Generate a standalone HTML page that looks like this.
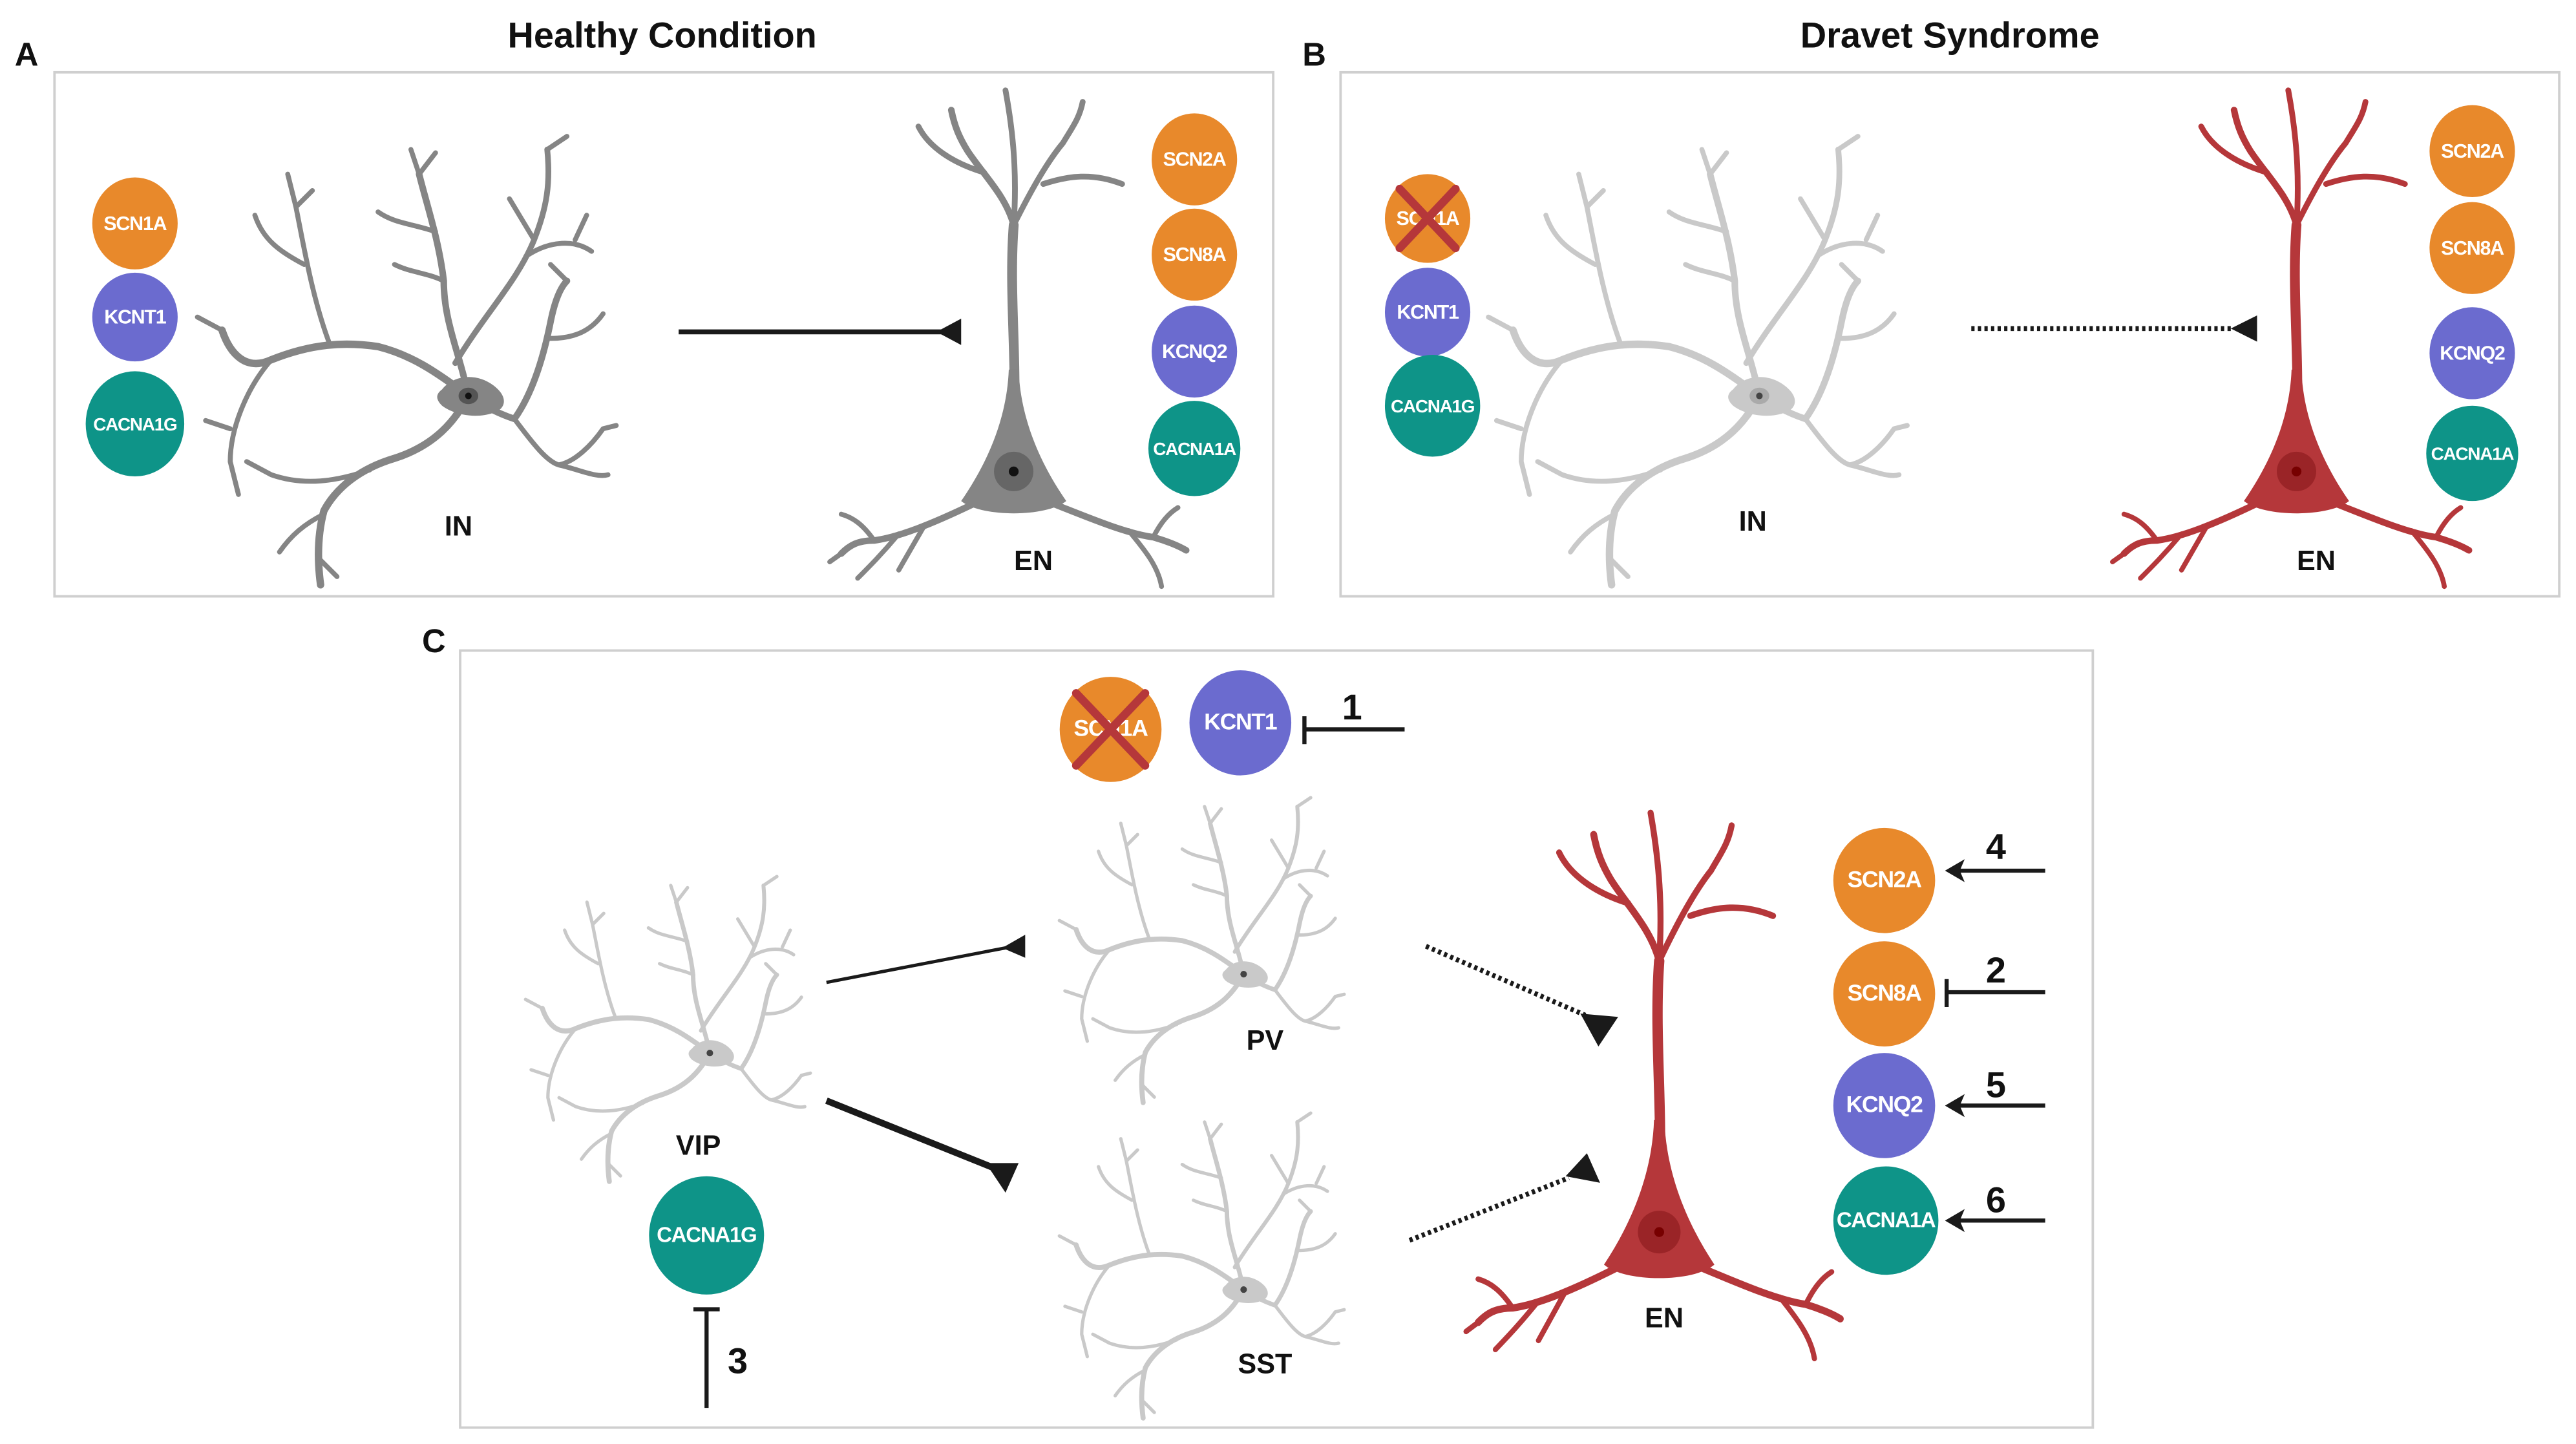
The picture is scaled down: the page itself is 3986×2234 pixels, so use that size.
<!DOCTYPE html>
<html><head><meta charset="utf-8"><style>
html,body{margin:0;padding:0;background:#fff;}
svg{display:block;}
text{font-family:"Liberation Sans",sans-serif;}
.g{font-weight:bold;fill:#fff;text-anchor:middle;font-size:12px;letter-spacing:-0.5px;}
.lab{font-weight:bold;fill:#111;text-anchor:middle;font-size:17px;}
.num{font-weight:bold;fill:#111;text-anchor:middle;font-size:22px;}
</style></head><body>
<svg width="3986" height="2234" viewBox="0 0 1568 879" xmlns="http://www.w3.org/2000/svg">
<defs>
<g id="inD" stroke-linecap="round" stroke-linejoin="round">
 <path fill="none" stroke-width="4.5" d="M0,0 C-20,-15 -35,-25 -55,-30 C-75,-33 -95,-32 -120,-22 C-135,-15 -145,-25 -150,-40"/>
 <path fill="none" stroke-width="3" d="M-85,-33 C-95,-60 -100,-90 -105,-115 L-110,-135 M-100,-80 C-115,-88 -125,-95 -130,-110 M-120,-22 C-135,-5 -145,20 -145,40 L-140,60 M-150,-40 L-165,-48 M-105,-115 L-95,-125 M-145,20 L-160,15"/>
 <path fill="none" stroke-width="4" d="M0,0 C-5,-25 -15,-45 -15,-70 C-18,-95 -25,-115 -30,-135"/>
 <path fill="none" stroke-width="3" d="M-15,-70 C-25,-75 -35,-75 -45,-80 M-20,-100 C-35,-105 -45,-105 -55,-112 M-30,-135 L-35,-150 M-30,-135 L-20,-148"/>
 <path fill="none" stroke-width="3.5" d="M-8,-20 C10,-50 30,-70 40,-95 C48,-115 50,-130 48,-150"/>
 <path fill="none" stroke-width="3" d="M35,-85 C50,-95 65,-95 75,-88 M40,-95 L25,-120 M48,-150 L60,-158 M65,-95 L72,-110"/>
 <path fill="none" stroke-width="4" d="M0,0 C12,8 22,12 28,14 C38,0 45,-20 50,-45 C52,-55 55,-65 60,-70"/>
 <path fill="none" stroke-width="3" d="M50,-35 C65,-35 75,-40 82,-50 M28,14 C40,30 48,40 55,42 C65,40 75,30 82,20 M55,42 C68,45 78,50 85,48 M60,-70 L50,-80 M82,20 L90,18"/>
 <path fill="none" stroke-width="4.5" d="M0,0 C-8,15 -20,30 -45,38 C-65,44 -80,55 -88,70 C-92,85 -92,100 -90,115"/>
 <path fill="none" stroke-width="3" d="M-60,45 C-80,52 -100,55 -120,48 L-135,40 M-88,72 C-100,78 -108,85 -115,95 M-90,100 L-80,110"/>
 <path stroke="none" d="M-16,-4 C-8,-14 8,-14 18,-4 C24,2 22,8 16,10 C6,14 -8,12 -16,6 C-20,2 -20,-1 -16,-4 Z"/>
</g>
<g id="enD" stroke-linecap="round" stroke-linejoin="round">
 <path fill="none" stroke-width="6" d="M0,-30 C2,-70 -3,-110 0,-150"/>
 <path fill="none" stroke-width="4" d="M0,-150 C-5,-168 -18,-180 -28,-195 C-33,-203 -36,-210 -38,-220"/>
 <path fill="none" stroke-width="3.5" d="M-18,-182 C-38,-188 -52,-198 -58,-210 M0,-150 C2,-180 0,-205 -5,-232 M0,-150 C10,-170 20,-188 30,-200 C36,-210 40,-215 42,-225 M18,-175 C33,-180 48,-182 66,-175"/>
 <path fill="none" stroke-width="4" d="M-25,20 C-50,32 -70,40 -85,42 C-95,42 -100,45 -105,50 M25,20 C50,30 70,38 85,40 C92,42 100,45 105,48"/>
 <path fill="none" stroke-width="3" d="M-70,38 C-80,50 -88,58 -95,65 M-85,42 C-92,32 -98,28 -105,26 M-55,34 L-70,60 M70,36 C80,48 88,58 90,70 M85,40 C90,30 95,25 100,22 M-105,50 L-112,55"/>
 <path stroke="none" d="M-3,-62 C-4,-35 -14,-8 -32,18 C-20,28 20,28 32,18 C14,-8 4,-35 3,-62 Z"/>
</g>
</defs>

<text x="403" y="29" class="lab" style="font-size:22px">Healthy Condition</text>
<text x="1187" y="29" class="lab" style="font-size:22px">Dravet Syndrome</text>
<text x="16" y="40" class="lab" style="font-size:20px">A</text>
<text x="800" y="40" class="lab" style="font-size:20px">B</text>
<text x="264" y="397" class="lab" style="font-size:20px">C</text>

<rect x="33" y="44" width="742" height="319" fill="none" stroke="#cfcfcf" stroke-width="1.5"/>
<rect x="816" y="44" width="742" height="319" fill="none" stroke="#cfcfcf" stroke-width="1.5"/>
<rect x="280" y="396" width="994" height="473" fill="none" stroke="#cfcfcf" stroke-width="1.5"/>

<!-- Panel A -->
<use href="#inD" transform="translate(285,241)" stroke="#858585" fill="#858585"/>
<ellipse cx="285" cy="241" rx="6" ry="5" fill="#555"/><circle cx="285" cy="241" r="2" fill="#111"/>
<use href="#enD" transform="translate(617,287)" stroke="#858585" fill="#858585"/>
<circle cx="617" cy="287" r="12" fill="#666"/><circle cx="617" cy="287" r="3" fill="#111"/>
<line x1="413" y1="202" x2="574" y2="202" stroke="#1a1a1a" stroke-width="3"/>
<polygon points="570,202 585,194 585,210" fill="#1a1a1a"/>
<text x="279" y="326" class="lab">IN</text>
<text x="629" y="347" class="lab">EN</text>
<ellipse cx="82" cy="136" rx="26" ry="28" fill="#e8892b"/><text x="82" y="140" class="g">SCN1A</text>
<ellipse cx="82" cy="193" rx="26" ry="27" fill="#6b6bcf"/><text x="82" y="197" class="g">KCNT1</text>
<ellipse cx="82" cy="258" rx="30" ry="32" fill="#0e9488"/><text x="82" y="262" class="g" style="font-size:11px">CACNA1G</text>
<ellipse cx="727" cy="97" rx="26" ry="28" fill="#e8892b"/><text x="727" y="101" class="g">SCN2A</text>
<ellipse cx="727" cy="155" rx="26" ry="28" fill="#e8892b"/><text x="727" y="159" class="g">SCN8A</text>
<ellipse cx="727" cy="214" rx="26" ry="28" fill="#6b6bcf"/><text x="727" y="218" class="g">KCNQ2</text>
<ellipse cx="727" cy="273" rx="28" ry="29" fill="#0e9488"/><text x="727" y="277" class="g" style="font-size:11px">CACNA1A</text>

<!-- Panel B -->
<use href="#inD" transform="translate(1071,241)" stroke="#c9c9c9" fill="#c9c9c9"/>
<ellipse cx="1071" cy="241" rx="6" ry="5" fill="#aaa"/><circle cx="1071" cy="241" r="2" fill="#444"/>
<use href="#enD" transform="translate(1398,287)" stroke="#b5373a" fill="#b5373a"/>
<circle cx="1398" cy="287" r="12" fill="#9a2427"/><circle cx="1398" cy="287" r="3" fill="#700"/>
<line x1="1200" y1="200" x2="1360" y2="200" stroke="#1a1a1a" stroke-width="3" stroke-dasharray="2,2"/>
<polygon points="1358,200 1374,192 1374,208" fill="#1a1a1a"/>
<text x="1067" y="323" class="lab">IN</text>
<text x="1410" y="347" class="lab">EN</text>
<ellipse cx="869" cy="133" rx="26" ry="27" fill="#e8892b"/><text x="869" y="137" class="g">SCN1A</text>
<path d="M852,115 L886,151 M886,115 L852,151" stroke="#b5373a" stroke-width="5" stroke-linecap="round"/>
<ellipse cx="869" cy="190" rx="26" ry="27" fill="#6b6bcf"/><text x="869" y="194" class="g">KCNT1</text>
<ellipse cx="872" cy="247" rx="29" ry="31" fill="#0e9488"/><text x="872" y="251" class="g" style="font-size:11px">CACNA1G</text>
<ellipse cx="1505" cy="92" rx="26" ry="28" fill="#e8892b"/><text x="1505" y="96" class="g">SCN2A</text>
<ellipse cx="1505" cy="151" rx="26" ry="28" fill="#e8892b"/><text x="1505" y="155" class="g">SCN8A</text>
<ellipse cx="1505" cy="215" rx="26" ry="28" fill="#6b6bcf"/><text x="1505" y="219" class="g">KCNQ2</text>
<ellipse cx="1505" cy="276" rx="28" ry="29" fill="#0e9488"/><text x="1505" y="280" class="g" style="font-size:11px">CACNA1A</text>

<!-- Panel C -->
<use href="#inD" transform="translate(432,641) scale(0.68)" stroke="#c9c9c9" fill="#c9c9c9"/>
<circle cx="432" cy="641" r="2" fill="#444"/>
<use href="#inD" transform="translate(757,593) scale(0.68)" stroke="#c9c9c9" fill="#c9c9c9"/>
<circle cx="757" cy="593" r="2" fill="#444"/>
<use href="#inD" transform="translate(757,785) scale(0.68)" stroke="#c9c9c9" fill="#c9c9c9"/>
<circle cx="757" cy="785" r="2" fill="#444"/>
<use href="#enD" transform="translate(1010,750) scale(1.05,1.1)" stroke="#b5373a" fill="#b5373a"/>
<circle cx="1010" cy="750" r="13" fill="#9a2427"/><circle cx="1010" cy="750" r="3" fill="#700"/>
<text x="770" y="639" class="lab">PV</text>
<text x="425" y="703" class="lab">VIP</text>
<text x="770" y="836" class="lab">SST</text>
<text x="1013" y="808" class="lab">EN</text>

<line x1="503" y1="598" x2="612" y2="577" stroke="#1a1a1a" stroke-width="2"/>
<polygon points="610,577 624,569 624,583" fill="#1a1a1a"/>
<line x1="503" y1="670" x2="605" y2="711" stroke="#1a1a1a" stroke-width="4"/>
<polygon points="600,708 620,708 612,726" fill="#1a1a1a"/>
<line x1="868" y1="576" x2="965" y2="618" stroke="#1a1a1a" stroke-width="3" stroke-dasharray="2,2"/>
<polygon points="962,617 985,619 973,637" fill="#1a1a1a"/>
<line x1="858" y1="755" x2="955" y2="717" stroke="#1a1a1a" stroke-width="3" stroke-dasharray="2,2"/>
<polygon points="953,716 966,702 974,720" fill="#1a1a1a"/>

<ellipse cx="676" cy="444" rx="31" ry="32" fill="#e8892b"/><text x="676" y="448" class="g" style="font-size:14px">SCN1A</text>
<path d="M655,422 L697,466 M697,422 L655,466" stroke="#b5373a" stroke-width="5" stroke-linecap="round"/>
<ellipse cx="755" cy="440" rx="31" ry="32" fill="#6b6bcf"/><text x="755" y="444" class="g" style="font-size:14px">KCNT1</text>
<line x1="794" y1="444" x2="855" y2="444" stroke="#1a1a1a" stroke-width="2.5"/>
<line x1="794" y1="436" x2="794" y2="453" stroke="#1a1a1a" stroke-width="2.5"/>
<text x="823" y="438" class="num">1</text>

<ellipse cx="430" cy="752" rx="35" ry="36" fill="#0e9488"/><text x="430" y="756" class="g" style="font-size:13px">CACNA1G</text>
<line x1="430" y1="797" x2="430" y2="857" stroke="#1a1a1a" stroke-width="2.5"/>
<line x1="422" y1="797" x2="438" y2="797" stroke="#1a1a1a" stroke-width="2.5"/>
<text x="449" y="836" class="num">3</text>

<ellipse cx="1147" cy="536" rx="31" ry="32" fill="#e8892b"/><text x="1147" y="540" class="g" style="font-size:14px">SCN2A</text>
<ellipse cx="1147" cy="605" rx="31" ry="32" fill="#e8892b"/><text x="1147" y="609" class="g" style="font-size:14px">SCN8A</text>
<ellipse cx="1147" cy="673" rx="31" ry="32" fill="#6b6bcf"/><text x="1147" y="677" class="g" style="font-size:14px">KCNQ2</text>
<ellipse cx="1148" cy="743" rx="32" ry="33" fill="#0e9488"/><text x="1148" y="747" class="g" style="font-size:13px">CACNA1A</text>

<line x1="1192" y1="530" x2="1245" y2="530" stroke="#1a1a1a" stroke-width="2.5"/>
<polygon points="1184,530 1196,523 1193,530 1196,537" fill="#1a1a1a"/>
<text x="1215" y="523" class="num">4</text>
<line x1="1185" y1="604" x2="1245" y2="604" stroke="#1a1a1a" stroke-width="2.5"/>
<line x1="1185" y1="596" x2="1185" y2="613" stroke="#1a1a1a" stroke-width="2.5"/>
<text x="1215" y="598" class="num">2</text>
<line x1="1192" y1="673" x2="1245" y2="673" stroke="#1a1a1a" stroke-width="2.5"/>
<polygon points="1184,673 1196,666 1193,673 1196,680" fill="#1a1a1a"/>
<text x="1215" y="668" class="num">5</text>
<line x1="1192" y1="743" x2="1245" y2="743" stroke="#1a1a1a" stroke-width="2.5"/>
<polygon points="1184,743 1196,736 1193,743 1196,750" fill="#1a1a1a"/>
<text x="1215" y="738" class="num">6</text>
</svg>
</body></html>
